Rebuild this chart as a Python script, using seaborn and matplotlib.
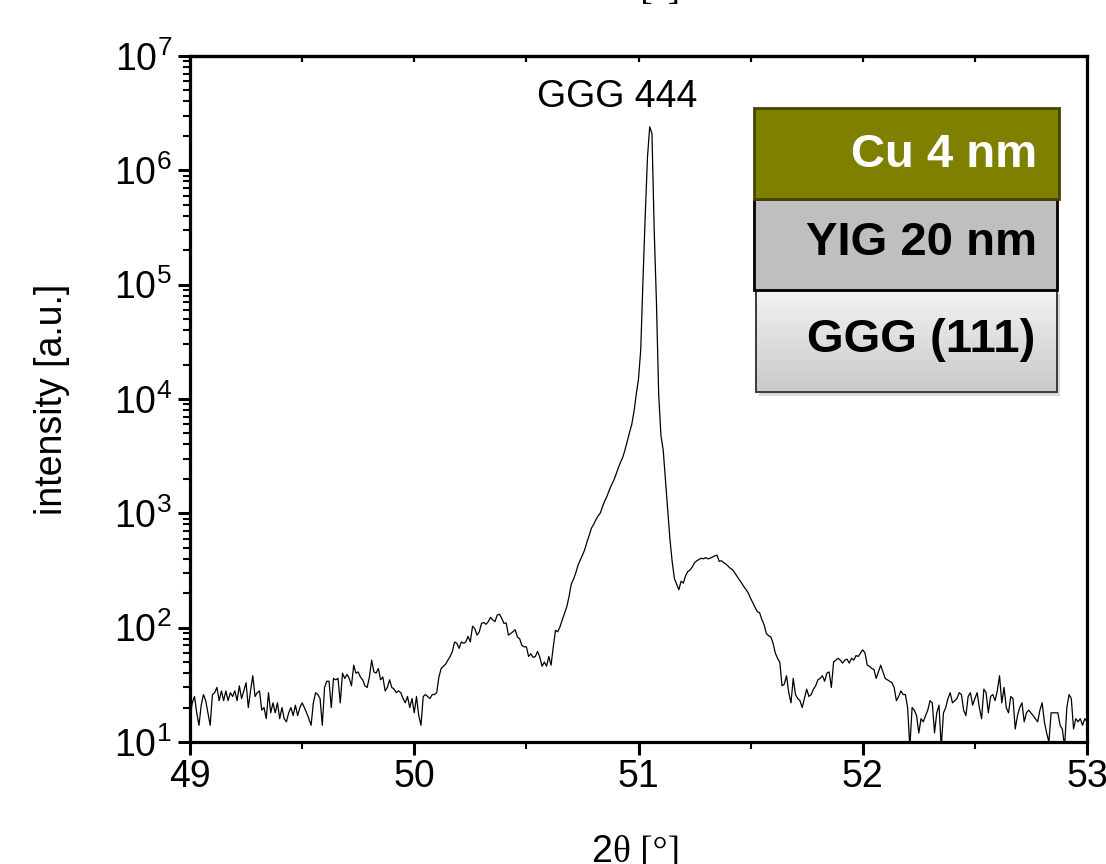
import numpy as np
import pandas as pd
import matplotlib
matplotlib.use("Agg")
import matplotlib.pyplot as plt
from matplotlib.patches import Rectangle
from matplotlib.colors import LinearSegmentedColormap
from matplotlib.ticker import LogLocator, MultipleLocator, NullFormatter
import seaborn as sns

# XRD 2theta-omega scan around the GGG 444 reflection, 0.01 deg step
SCAN_START = 49.00
SCAN_STOP = 53.00
SCAN_POINTS = 401

# Intensity in counts, one row per 0.1 deg
counts_49 = [16, 22, 25, 18, 14, 21, 26, 23, 18, 14,
             26, 27, 30, 23, 28, 23, 28, 23, 27, 25,
             28, 23, 31, 24, 28, 33, 20, 28, 38, 25,
             27, 28, 19, 20, 16, 27, 18, 22, 18, 22,
             16, 20, 16, 15, 18, 20, 17, 21, 17, 20,
             22, 20, 18, 16, 14, 22, 27, 26, 24, 14,
             30, 34, 34, 20, 36, 35, 36, 22, 40, 36,
             39, 36, 31, 47, 40, 41, 37, 35, 31, 30,
             37, 52, 41, 40, 44, 35, 37, 28, 30, 35,
             30, 29, 27, 28, 27, 24, 22, 25, 20, 24]
counts_50 = [18, 25, 17, 14, 25, 26, 25, 24, 26, 26,
             27, 37, 44, 46, 48, 52, 56, 62, 75, 73,
             66, 75, 73, 75, 84, 75, 103, 98, 86, 92,
             109, 111, 107, 113, 123, 117, 113, 129, 131, 121,
             109, 110, 86, 89, 92, 96, 83, 80, 70, 68,
             68, 56, 59, 55, 56, 62, 55, 46, 50, 46,
             56, 47, 68, 95, 92, 102, 117, 133, 152, 186,
             240, 265, 300, 350, 390, 430, 480, 560, 640, 740,
             800, 880, 950, 1010, 1150, 1290, 1420, 1600, 1780, 1950,
             2200, 2500, 2800, 3100, 3600, 4300, 5100, 6000, 7800, 11000]
counts_51 = [15000, 27000, 110000, 400000, 1300000, 2400000, 2100000, 300000, 70000, 11000,
             4800, 3600, 2000, 1100, 600, 380, 270, 240, 215, 255,
             245, 285, 310, 320, 340, 370, 385, 395, 405, 400,
             410, 400, 405, 415, 425, 430, 380, 385, 370, 360,
             345, 330, 320, 300, 280, 262, 245, 228, 215, 200,
             180, 165, 150, 138, 135, 118, 106, 89, 85, 83,
             73, 60, 54, 50, 31, 32, 38, 27, 22, 36,
             26, 24, 23, 20, 24, 29, 25, 26, 29, 31,
             35, 36, 38, 34, 40, 41, 30, 50, 52, 54,
             52, 49, 52, 53, 49, 54, 52, 57, 56, 60]
counts_52 = [64, 60, 47, 46, 44, 43, 36, 41, 47, 41,
             36, 35, 34, 33, 30, 23, 25, 28, 26, 26,
             20, 9, 20, 19, 17, 12, 16, 15, 17, 19,
             23, 22, 12, 18, 21, 9, 18, 20, 24, 27,
             22, 23, 24, 27, 26, 19, 17, 25, 27, 21,
             24, 27, 20, 16, 29, 27, 18, 25, 26, 23,
             28, 38, 22, 30, 20, 18, 25, 24, 13, 17,
             20, 22, 15, 18, 19, 18, 17, 16, 15, 19,
             22, 15, 12, 10, 18, 18, 18, 18, 14, 13,
             9, 20, 26, 24, 13, 16, 15, 16, 14, 16,
             15]

x_ticks = [49, 50, 51, 52, 53]
peak_label = "GGG 444"
layer_names = ["Cu 4 nm", "YIG 20 nm", "GGG (111)"]

theta = np.round(np.linspace(SCAN_START, SCAN_STOP, SCAN_POINTS), 2)
intensity = np.array(counts_49 + counts_50 + counts_51 + counts_52, dtype=float)
df = pd.DataFrame({"two_theta": theta, "intensity": intensity})

sns.set_style("ticks")
plt.rcParams["font.family"] = ["Liberation Sans", "DejaVu Sans"]
plt.rcParams["text.color"] = "black"
plt.rcParams["axes.labelcolor"] = "black"
plt.rcParams["xtick.color"] = "black"
plt.rcParams["ytick.color"] = "black"
plt.rcParams["mathtext.fontset"] = "custom"
plt.rcParams["mathtext.rm"] = "Liberation Sans"
plt.rcParams["mathtext.it"] = "Liberation Sans:italic"
plt.rcParams["mathtext.bf"] = "Liberation Sans:bold"
plt.rcParams["mathtext.default"] = "regular"

W, H = 1106, 864
FS = 27


def fig_rect(x0, y0, x1, y1):
    return [x0 / W, 1 - y1 / H, (x1 - x0) / W, (y1 - y0) / H]


fig = plt.figure(figsize=(W / 100, H / 100), dpi=100)
ax = fig.add_axes(fig_rect(190, 56, 1087, 742))

sns.lineplot(data=df, x="two_theta", y="intensity", ax=ax, color="black",
             linewidth=0.9, estimator=None, sort=False)

ax.set_yscale("log")
ax.set_xlim(49, 53)
ax.set_ylim(10, 1e7)
ax.set_xticks(x_ticks)
ax.set_xticklabels([str(t) for t in x_ticks])
ax.xaxis.set_minor_locator(MultipleLocator(0.5))
ax.yaxis.set_major_locator(LogLocator(base=10, numticks=10))
ax.yaxis.set_minor_locator(LogLocator(base=10, subs=np.arange(2, 10), numticks=20))
ax.yaxis.set_minor_formatter(NullFormatter())

for sp in ax.spines.values():
    sp.set_linewidth(2.3)
    sp.set_color("black")

ax.tick_params(axis="both", which="major", direction="out", length=9,
               width=2.2, labelsize=FS, pad=3, colors="black")
ax.tick_params(axis="y", which="major", pad=4)
ax.tick_params(axis="both", which="minor", direction="out", length=5, width=1.5)
ax.tick_params(top=False, right=False, which="both")

top = ax.secondary_xaxis("top")
top.set_xticks(x_ticks)
top.xaxis.set_minor_locator(MultipleLocator(0.5))
top.tick_params(which="both", direction="in", length=4.5, width=1.6, labeltop=False)
top.spines["top"].set_linewidth(2.3)

ax.set_xlabel("")
ax.set_ylabel("intensity [a.u.]", fontsize=FS, labelpad=32)

# x-axis label: sans-serif "2" followed by serif theta and unit
fig.text(612 / W, 1 - 862 / H, "2", fontsize=FS, ha="right", va="baseline",
         family="Liberation Sans")
fig.text(613 / W, 1 - 862 / H, "θ [°]", fontsize=FS, ha="left", va="baseline",
         family="Liberation Serif")
fig.text(612 / W, 1 + 1 / H, "2", fontsize=FS, ha="right", va="baseline",
         family="Liberation Sans")
fig.text(613 / W, 1 + 1 / H, "θ [°]", fontsize=FS, ha="left", va="baseline",
         family="Liberation Serif")

ax.text(50.905, 4.4e6, peak_label, fontsize=FS, ha="center", va="center")

# layer stack sketch
axs = fig.add_axes(fig_rect(740, 95, 1075, 410), zorder=5)
axs.set_axis_off()
axs.patch.set_visible(False)

shadow = Rectangle((759, 294), 301, 102, facecolor="#9a9a9a", edgecolor="none", alpha=0.35)
axs.add_patch(shadow)
grad = np.linspace(0, 1, 100).reshape(-1, 1)
cmap = LinearSegmentedColormap.from_list("sub", ["#f3f3f3", "#c9c9c9"])
axs.imshow(grad, extent=(756, 1057, 392, 290), cmap=cmap, aspect="auto", zorder=1)
axs.add_patch(Rectangle((756, 290), 301, 102, facecolor="none", edgecolor="#3a3a3a",
                        linewidth=1.4, zorder=2))
axs.add_patch(Rectangle((754, 199), 303, 91, facecolor="#bfbfbf", edgecolor="black",
                        linewidth=2.0, zorder=3))
axs.add_patch(Rectangle((754, 108), 305, 91, facecolor="#808000", edgecolor="#454500",
                        linewidth=2.0, zorder=4))
axs.set_xlim(740, 1075)
axs.set_ylim(410, 95)

axs.text(1037, 155, layer_names[0], ha="right", va="center", color="white",
         fontsize=34, fontweight="bold", zorder=6)
axs.text(1037, 243, layer_names[1], ha="right", va="center", color="black",
         fontsize=34, fontweight="bold", zorder=6)
axs.text(1035, 340, layer_names[2], ha="right", va="center", color="black",
         fontsize=34, fontweight="bold", zorder=6)

fig.savefig("out.png", dpi=100)
